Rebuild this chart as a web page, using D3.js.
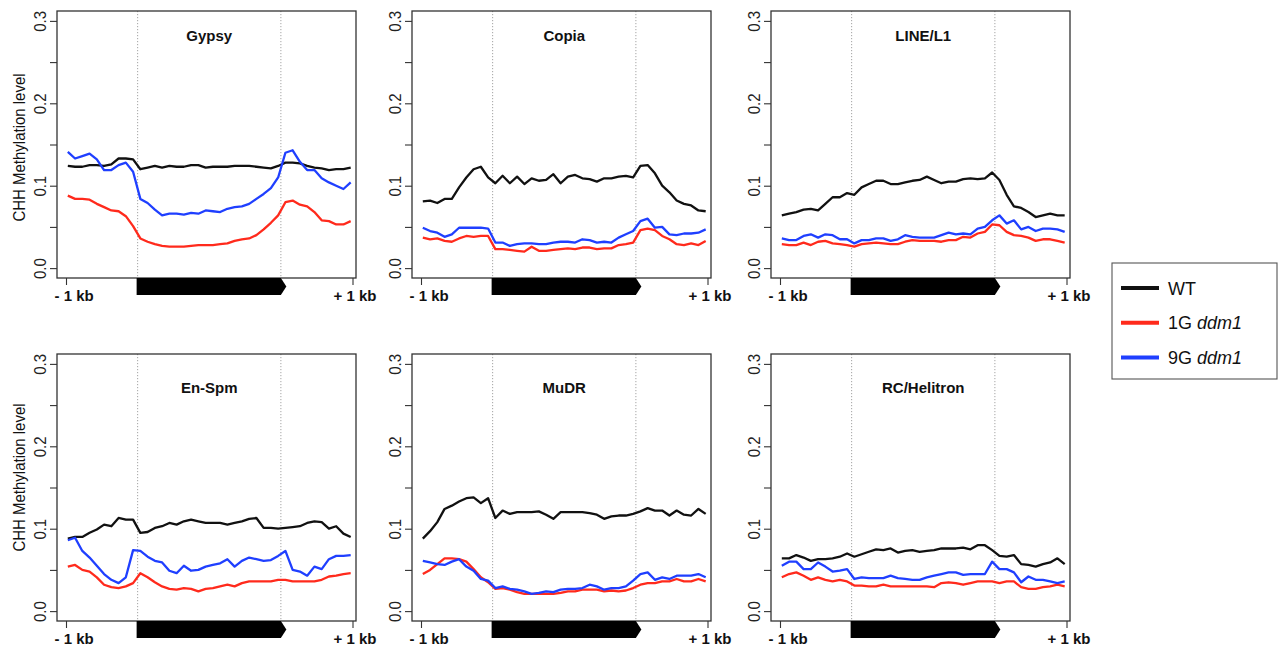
<!DOCTYPE html>
<html>
<head>
<meta charset="utf-8">
<script src="https://cdn.jsdelivr.net/npm/d3@7"></script>
<style>
  body { margin: 0; background: #fff; }
  svg { display: block; font-family: "Liberation Sans", Arial, Helvetica, sans-serif; }
</style>
</head>
<body>
<div id="container"></div>
<script>
// 40 bins per profile: 10 upstream (-1 kb), 20 over the TE body, 10 downstream (+1 kb)
const panelNames = ['Gypsy', 'Copia', 'LINE/L1', 'En-Spm', 'MuDR', 'RC/Helitron'];
const seriesNames = ['WT', '1G ddm1', '9G ddm1'];
const seriesColors = ['#111111', '#ff2a1c', '#1f3fff'];
const xTickLabels = ['- 1 kb', '+ 1 kb'];
const yTicks = [0, 0.05, 0.1, 0.15, 0.2, 0.25, 0.3];
const yLabel = 'CHH Methylation level';

const gypsyWT = [0.124,0.123,0.123,0.125,0.125,0.124,0.126,0.133,0.133,0.132,
  0.120,0.122,0.124,0.122,0.124,0.123,0.123,0.125,0.125,0.122,0.123,0.123,0.123,0.124,0.124,0.124,0.123,0.122,0.121,0.124,
  0.128,0.128,0.127,0.124,0.122,0.121,0.119,0.120,0.120,0.122];
const gypsy1G = [0.088,0.084,0.084,0.083,0.078,0.074,0.070,0.069,0.063,0.051,
  0.036,0.032,0.029,0.027,0.026,0.026,0.026,0.027,0.028,0.028,0.028,0.029,0.030,0.033,0.035,0.036,0.040,0.047,0.055,0.064,
  0.080,0.082,0.077,0.075,0.068,0.058,0.057,0.053,0.053,0.057];
const gypsy9G = [0.141,0.133,0.136,0.139,0.132,0.119,0.119,0.125,0.128,0.117,
  0.084,0.079,0.071,0.064,0.066,0.066,0.065,0.067,0.066,0.070,0.069,0.068,0.072,0.074,0.075,0.078,0.084,0.090,0.097,0.110,
  0.140,0.143,0.129,0.119,0.119,0.109,0.104,0.100,0.096,0.104];

const copiaWT = [0.081,0.082,0.079,0.084,0.084,0.098,0.110,0.120,0.123,0.110,
  0.103,0.112,0.103,0.111,0.102,0.109,0.106,0.107,0.114,0.103,0.111,0.113,0.109,0.108,0.105,0.109,0.109,0.111,0.112,0.110,
  0.124,0.125,0.115,0.100,0.092,0.082,0.078,0.076,0.070,0.069];
const copia1G = [0.037,0.035,0.036,0.033,0.032,0.036,0.039,0.038,0.039,0.039,
  0.023,0.023,0.022,0.021,0.020,0.026,0.021,0.021,0.022,0.023,0.024,0.023,0.025,0.025,0.023,0.024,0.024,0.028,0.029,0.031,
  0.046,0.048,0.046,0.039,0.035,0.029,0.028,0.030,0.028,0.033];
const copia9G = [0.049,0.045,0.043,0.038,0.041,0.049,0.049,0.049,0.049,0.048,
  0.031,0.031,0.027,0.029,0.030,0.030,0.029,0.029,0.031,0.032,0.032,0.031,0.035,0.034,0.031,0.032,0.031,0.037,0.041,0.045,
  0.057,0.060,0.049,0.050,0.041,0.040,0.042,0.042,0.043,0.047];

const lineWT = [0.064,0.066,0.068,0.071,0.072,0.070,0.078,0.086,0.086,0.091,
  0.089,0.098,0.102,0.106,0.106,0.102,0.102,0.104,0.106,0.107,0.111,0.107,0.103,0.105,0.105,0.108,0.109,0.108,0.109,0.116,
  0.107,0.089,0.075,0.073,0.068,0.062,0.064,0.066,0.064,0.064];
const line1G = [0.029,0.028,0.028,0.031,0.028,0.032,0.033,0.030,0.029,0.028,
  0.026,0.029,0.030,0.031,0.030,0.029,0.029,0.032,0.034,0.033,0.033,0.033,0.032,0.034,0.034,0.038,0.037,0.042,0.044,0.053,
  0.052,0.044,0.040,0.039,0.037,0.033,0.035,0.035,0.033,0.031];
const line9G = [0.036,0.034,0.034,0.039,0.041,0.037,0.041,0.040,0.035,0.035,
  0.030,0.034,0.034,0.036,0.036,0.033,0.035,0.040,0.038,0.037,0.037,0.037,0.040,0.043,0.041,0.042,0.041,0.048,0.050,0.058,
  0.064,0.054,0.058,0.047,0.050,0.045,0.048,0.048,0.047,0.044];

const enspmWT = [0.088,0.090,0.090,0.095,0.099,0.105,0.103,0.113,0.111,0.111,
  0.095,0.096,0.101,0.103,0.107,0.105,0.109,0.111,0.109,0.107,0.107,0.107,0.105,0.107,0.109,0.112,0.113,0.101,0.101,0.100,
  0.101,0.102,0.103,0.107,0.109,0.108,0.100,0.103,0.094,0.090];
const enspm1G = [0.054,0.056,0.050,0.048,0.041,0.032,0.029,0.028,0.030,0.034,
  0.046,0.041,0.035,0.030,0.027,0.026,0.028,0.027,0.024,0.027,0.028,0.030,0.032,0.030,0.034,0.036,0.036,0.036,0.036,0.038,
  0.038,0.036,0.036,0.036,0.036,0.038,0.042,0.043,0.045,0.046];
const enspm9G = [0.086,0.089,0.073,0.065,0.055,0.045,0.038,0.034,0.041,0.074,
  0.073,0.066,0.061,0.059,0.049,0.046,0.055,0.049,0.050,0.054,0.056,0.058,0.063,0.054,0.061,0.065,0.063,0.061,0.062,0.067,
  0.073,0.050,0.048,0.043,0.054,0.051,0.063,0.067,0.067,0.068];

const mudrWT = [0.088,0.097,0.108,0.124,0.128,0.133,0.137,0.138,0.131,0.137,
  0.113,0.122,0.118,0.120,0.120,0.120,0.121,0.117,0.112,0.120,0.120,0.120,0.120,0.119,0.117,0.112,0.115,0.116,0.116,0.118,
  0.121,0.125,0.122,0.122,0.116,0.122,0.117,0.116,0.124,0.118];
const mudr1G = [0.045,0.050,0.057,0.064,0.064,0.063,0.060,0.051,0.041,0.035,
  0.027,0.028,0.026,0.023,0.021,0.021,0.021,0.021,0.021,0.022,0.024,0.024,0.026,0.026,0.026,0.024,0.025,0.024,0.025,0.028,
  0.032,0.034,0.034,0.036,0.036,0.039,0.036,0.036,0.039,0.036];
const mudr9G = [0.061,0.059,0.057,0.056,0.060,0.063,0.054,0.049,0.039,0.037,
  0.028,0.030,0.027,0.026,0.024,0.021,0.022,0.024,0.023,0.026,0.027,0.027,0.028,0.032,0.030,0.026,0.028,0.028,0.030,0.037,
  0.045,0.047,0.038,0.041,0.039,0.043,0.043,0.043,0.045,0.041];

const helitronWT = [0.064,0.064,0.068,0.065,0.061,0.063,0.063,0.064,0.066,0.070,
  0.066,0.069,0.072,0.075,0.074,0.076,0.071,0.073,0.074,0.072,0.073,0.074,0.076,0.076,0.076,0.077,0.075,0.080,0.080,0.074,
  0.067,0.066,0.068,0.057,0.056,0.054,0.057,0.059,0.064,0.057];
const helitron1G = [0.041,0.045,0.047,0.043,0.038,0.041,0.038,0.036,0.038,0.036,
  0.031,0.031,0.030,0.030,0.032,0.030,0.030,0.030,0.030,0.030,0.030,0.029,0.034,0.035,0.034,0.032,0.034,0.036,0.036,0.036,
  0.034,0.036,0.036,0.029,0.027,0.027,0.029,0.030,0.032,0.030];
const helitron9G = [0.055,0.060,0.060,0.051,0.051,0.059,0.054,0.048,0.049,0.051,
  0.039,0.041,0.040,0.040,0.040,0.043,0.040,0.039,0.038,0.038,0.041,0.043,0.045,0.047,0.047,0.044,0.045,0.045,0.045,0.060,
  0.051,0.051,0.047,0.035,0.042,0.038,0.038,0.036,0.034,0.036];

const panelSeries = [
  [gypsyWT, gypsy1G, gypsy9G],
  [copiaWT, copia1G, copia9G],
  [lineWT, line1G, line9G],
  [enspmWT, enspm1G, enspm9G],
  [mudrWT, mudr1G, mudr9G],
  [helitronWT, helitron1G, helitron9G]
];

// layout
const W = 1279, H = 650;
const colLeft = [57, 412, 771];
const rows = [
  { top: 11, titleY: 40.7, yTitleY: 147.5 },
  { top: 354, titleY: 392.5, yTitleY: 477.5 }
];
const boxW = 299, boxH = 267;
const axPadL = 9, axPadR = 295.5;

const svg = d3.select('#container').append('svg')
  .attr('width', W).attr('height', H);

panelNames.forEach((name, p) => {
  const row = rows[Math.floor(p / 3)];
  const left = colLeft[p % 3];
  const top = row.top;
  const g = svg.append('g').attr('transform', `translate(${left},${top})`);

  const xPos = d3.scalePoint().domain(d3.range(40)).range([axPadL, axPadR]).padding(0.25);
  const xFrac = d3.scaleLinear().domain([0, 1]).range([axPadL, axPadR]);
  const y = d3.scaleLinear().domain([-0.012, 0.312]).range([boxH, 0]);

  // TE body boundaries
  [0.25, 0.75].forEach(f => {
    g.append('line')
      .attr('x1', xFrac(f)).attr('x2', xFrac(f))
      .attr('y1', 0).attr('y2', boxH)
      .attr('stroke', '#9a9a9a').attr('stroke-width', 0.9)
      .attr('stroke-dasharray', '1.2,1.8');
  });

  // profiles
  const line = d3.line().x((d, i) => xPos(i)).y(d => y(d));
  panelSeries[p].forEach((vals, s) => {
    g.append('path')
      .datum(vals)
      .attr('d', line)
      .attr('fill', 'none')
      .attr('stroke', seriesColors[s])
      .attr('stroke-width', 2.3)
      .attr('stroke-linejoin', 'round');
  });

  // box
  g.append('rect')
    .attr('x', 0).attr('y', 0).attr('width', boxW).attr('height', boxH)
    .attr('fill', 'none').attr('stroke', '#333').attr('stroke-width', 1.3);

  // y axis
  const yAx = g.append('g')
    .call(d3.axisLeft(y).tickValues(yTicks).tickSize(7)
      .tickFormat(d => (Math.round(d * 100) % 10 === 0 ? d.toFixed(1) : '')));
  yAx.select('.domain').remove();
  yAx.selectAll('line').attr('stroke', '#333').attr('stroke-width', 1.1);
  yAx.selectAll('text')
    .attr('transform', 'rotate(-90) scale(1,1.12)')
    .attr('x', 0).attr('y', -9.8).attr('dy', 0)
    .attr('text-anchor', 'middle')
    .attr('font-size', 15).attr('font-family', null)
    .attr('fill', '#222');

  // x axis
  const xAx = g.append('g')
    .attr('transform', `translate(0,${boxH})`)
    .call(d3.axisBottom(xFrac).tickValues([0, 1]).tickSize(7)
      .tickFormat((d, i) => xTickLabels[i]));
  xAx.select('.domain').remove();
  xAx.selectAll('line').attr('stroke', '#333').attr('stroke-width', 1.1);
  xAx.selectAll('text')
    .attr('y', 23).attr('dy', 0)
    .attr('font-size', 15).attr('font-weight', 'bold').attr('font-family', null)
    .attr('fill', '#111')
    .attr('text-anchor', (d, i) => i === 0 ? 'start' : 'middle')
    .attr('x', (d, i) => i === 0 ? -12 : 2);

  // TE body arrow
  const x0 = xFrac(0.25) - 1, x1 = xFrac(0.75);
  const ah = 17;
  g.append('path')
    .attr('d', `M${x0},${boxH}L${x1},${boxH}L${x1 + 5.5},${boxH + ah / 2}L${x1},${boxH + ah}L${x0},${boxH + ah}Z`)
    .attr('fill', '#000');

  // title
  svg.append('text')
    .attr('x', left + (axPadL + axPadR) / 2)
    .attr('y', row.titleY)
    .attr('text-anchor', 'middle')
    .attr('font-size', 15).attr('font-weight', 'bold')
    .attr('fill', '#111')
    .text(name);

  // y label on first column
  if (p % 3 === 0) {
    svg.append('text')
      .attr('transform', `translate(${left - 32},${row.yTitleY}) rotate(-90) scale(1,1.1)`)
      .attr('text-anchor', 'middle')
      .attr('font-size', 15)
      .attr('fill', '#111')
      .text(yLabel);
  }
});

// legend
const leg = svg.append('g').attr('transform', 'translate(1112,263)');
leg.append('rect')
  .attr('width', 165).attr('height', 116)
  .attr('fill', '#fff').attr('stroke', '#555').attr('stroke-width', 1.1);
seriesNames.forEach((n, i) => {
  const ly = 25 + i * 34.7;
  leg.append('line')
    .attr('x1', 9).attr('x2', 47).attr('y1', ly).attr('y2', ly)
    .attr('stroke', seriesColors[i]).attr('stroke-width', 4);
  const t = leg.append('text')
    .attr('x', 56).attr('y', ly + 6.5)
    .attr('font-size', 18).attr('fill', '#111');
  const parts = n.split(' ');
  t.append('tspan').text(parts[0]);
  if (parts[1]) t.append('tspan').attr('font-style', 'italic').text(' ' + parts[1]);
});
</script>
</body>
</html>
